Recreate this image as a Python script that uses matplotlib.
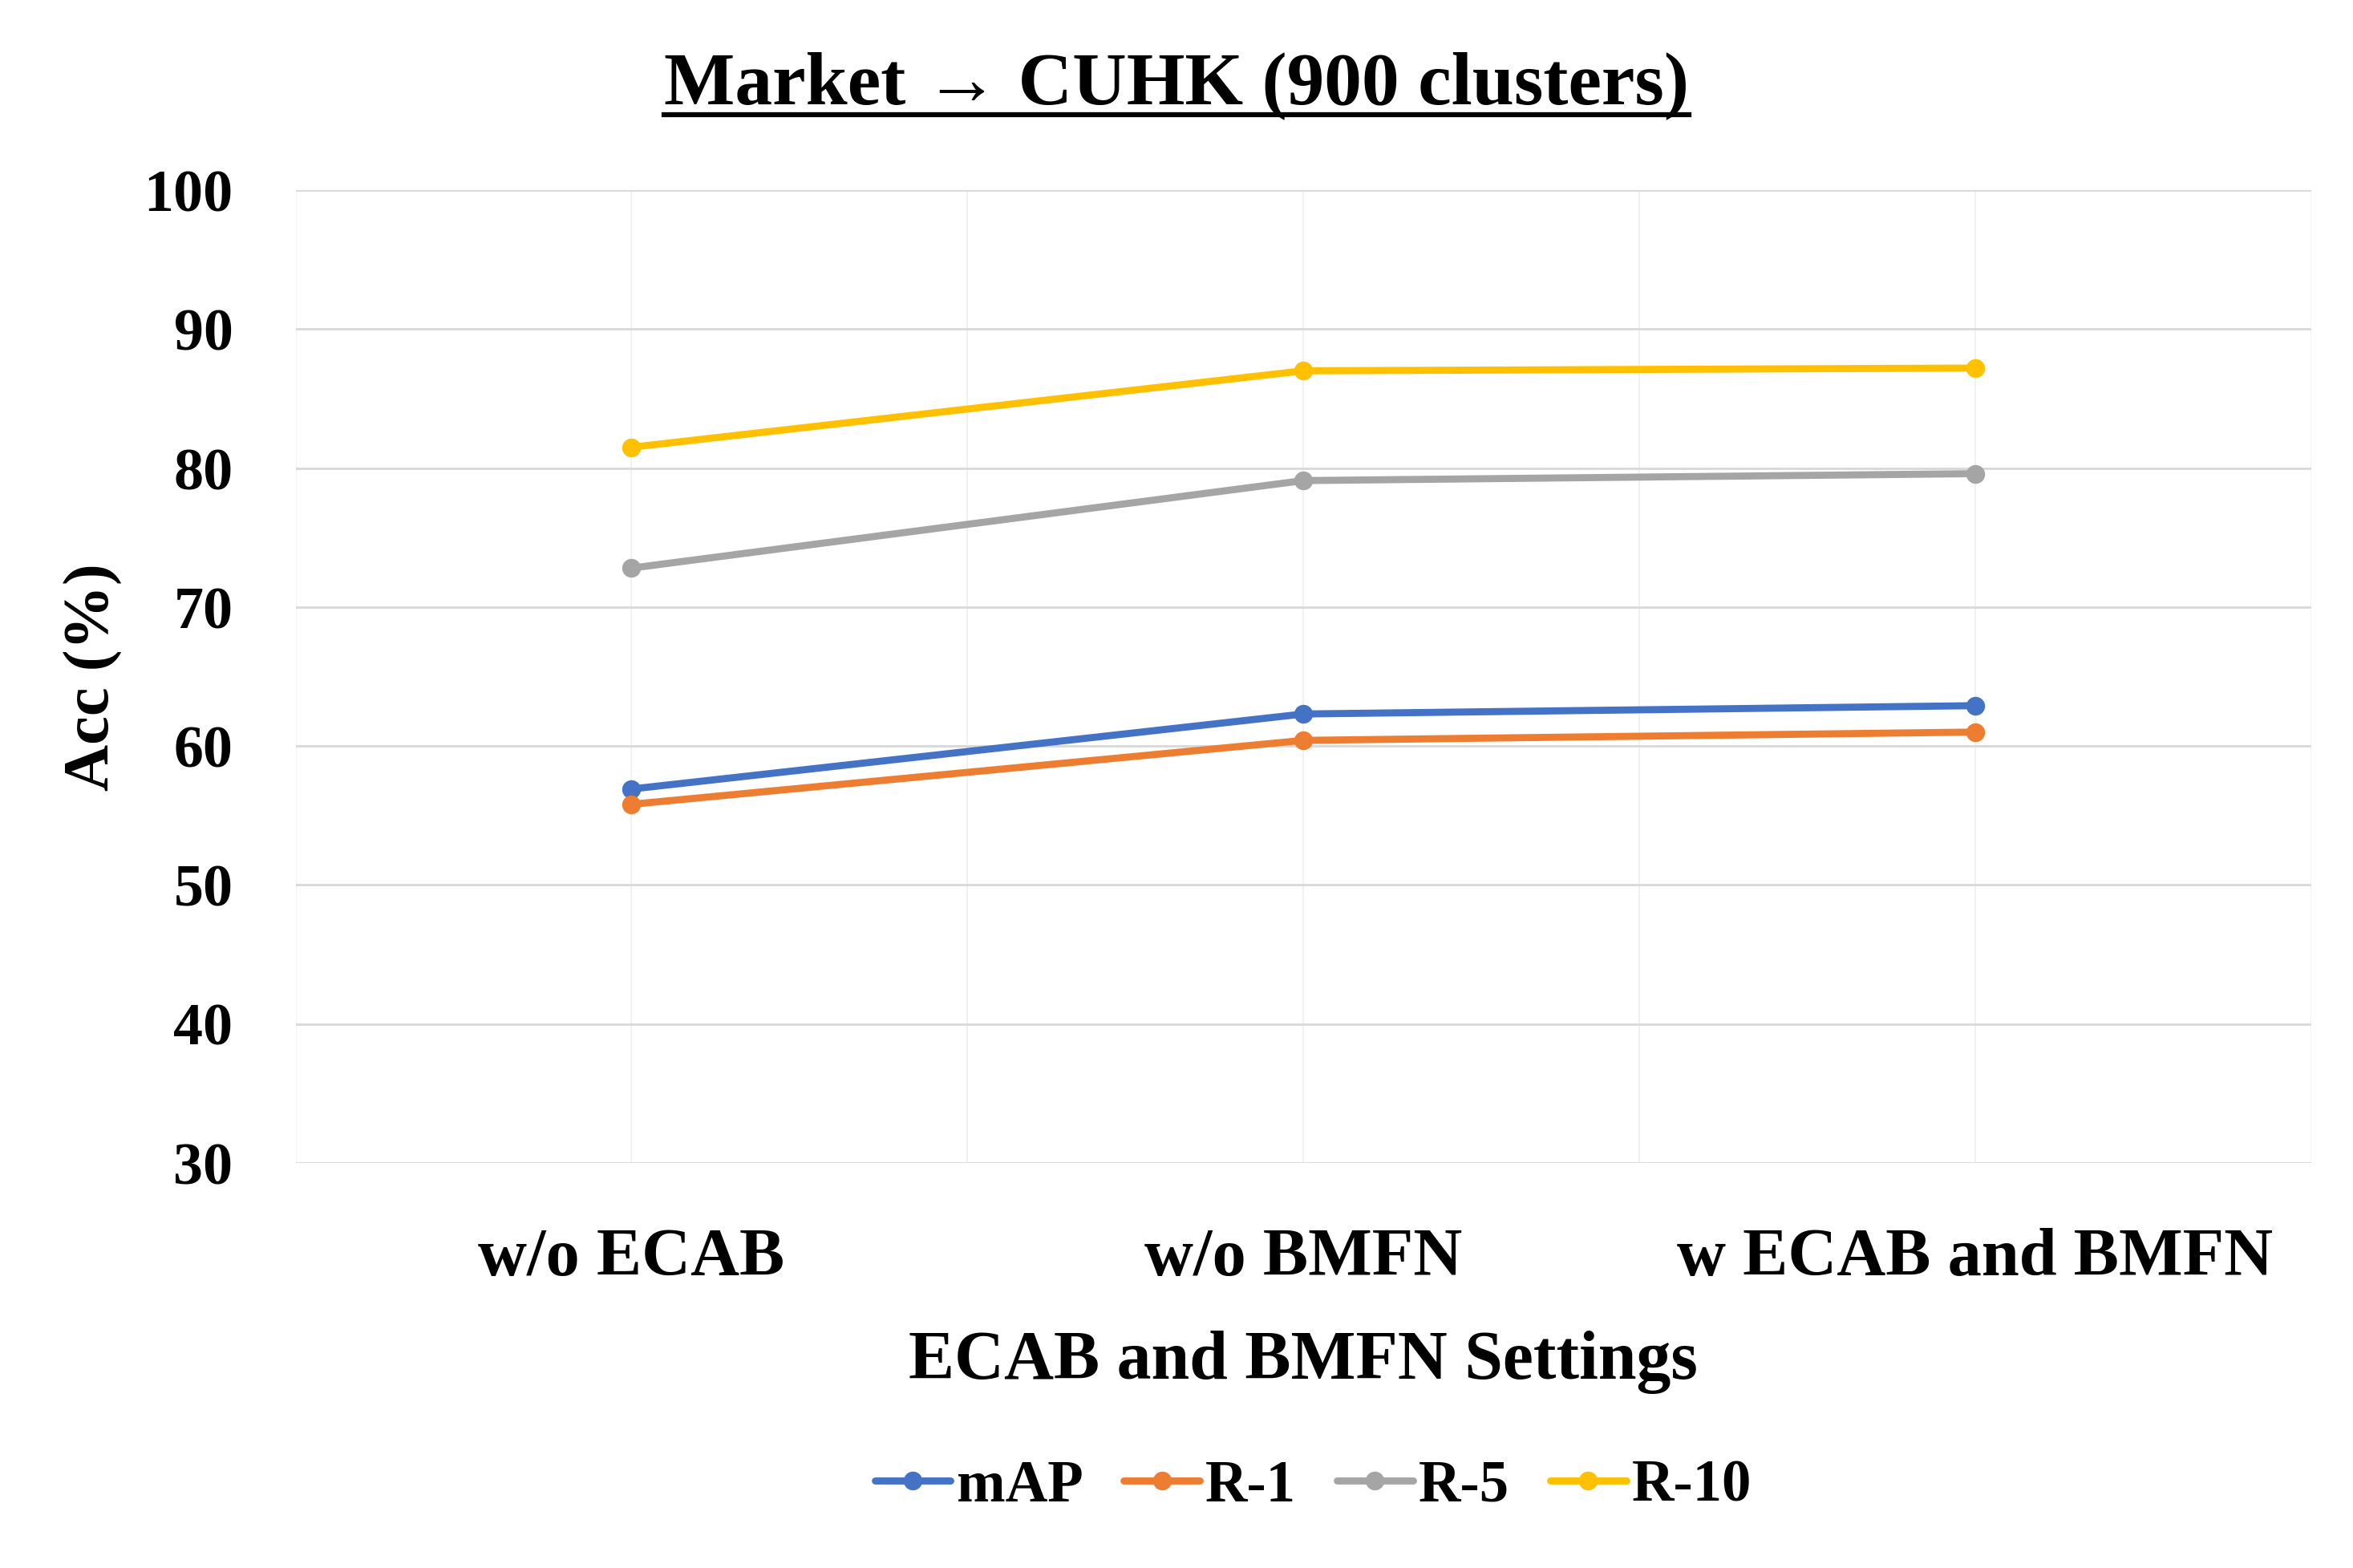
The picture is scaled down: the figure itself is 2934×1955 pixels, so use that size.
import matplotlib
matplotlib.use('Agg')
from matplotlib import pyplot as plt
from matplotlib.lines import Line2D

plt.rcParams['font.family'] = ['Liberation Serif', 'DejaVu Serif']
plt.rcParams['font.weight'] = 'bold'

settings = ['w/o ECAB', 'w/o BMFN', 'w ECAB and BMFN']
series_names = ['mAP', 'R-1', 'R-5', 'R-10']
mAP = [56.9, 62.3, 62.9]
r1 = [55.8, 60.4, 61.0]
r5 = [72.8, 79.1, 79.6]
r10 = [81.5, 87.0, 87.2]
colors = ['#4472C4', '#ED7D31', '#A5A5A5', '#FFC000']
yticks = [30, 40, 50, 60, 70, 80, 90, 100]

fig = plt.figure(figsize=(15.68, 10.45), dpi=187.12)
ax = fig.add_axes([0.1256, 0.2584, 0.8565, 0.6201])

x = list(range(len(settings)))
for vals, name, c in zip([mAP, r1, r5, r10], series_names, colors):
    ax.plot(x, vals, color=c, lw=3.4, marker='o', markersize=8, label=name,
            solid_capstyle='round', zorder=3)

ax.set_xlim(-0.5, 2.5)
ax.set_ylim(30, 100)
ax.set_yticks(yticks)
ax.set_yticklabels([str(v) for v in yticks], fontsize=28.5, fontweight='bold')
ax.set_xticks(x)
ax.set_xticklabels(settings, fontsize=32.5, fontweight='bold')
ax.set_xticks([-0.5, 0.5, 1.5, 2.5], minor=True)
ax.tick_params(axis='both', which='both', length=0)
ax.tick_params(axis='y', pad=30)
ax.tick_params(axis='x', pad=31)

ax.grid(axis='y', color='#d9d9d9', lw=1.1, zorder=0)
ax.grid(axis='x', which='both', color='#eeeeee', lw=0.6, zorder=0)
for s in ax.spines.values():
    s.set_visible(False)

ax.set_ylabel('Acc (%)', fontsize=31, fontweight='bold')
ax.yaxis.set_label_coords(-0.0856, 0.5)
ax.set_xlabel('ECAB and BMFN Settings', fontsize=33, fontweight='bold')
ax.xaxis.set_label_coords(0.5, -0.172)

title = fig.text(0.5, 0.934, 'Market \u2192 CUHK (900 clusters)', ha='center',
                 va='baseline', fontsize=36, fontweight='bold')

leg = ax.legend(loc='center', bbox_to_anchor=(0.505, -0.333), ncol=4, frameon=False,
                handlelength=1.3, handletextpad=0.1, columnspacing=0.7,
                prop={'weight': 'bold', 'size': 28})

fig.canvas.draw()
bb = title.get_window_extent().transformed(fig.transFigure.inverted())
uy = 0.934 - 0.0075
fig.add_artist(Line2D([bb.x0, bb.x1], [uy, uy], color='black', lw=2.4,
                      transform=fig.transFigure))

fig.savefig('out.png', dpi=187.12)
